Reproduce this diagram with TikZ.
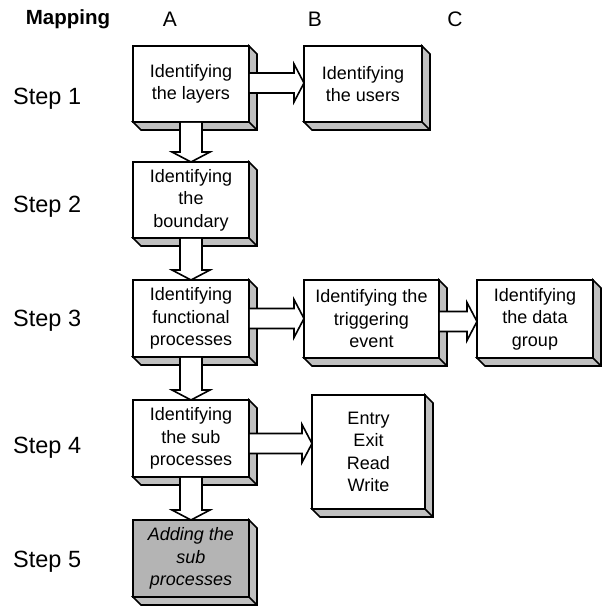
\documentclass[tikz,border=0pt]{standalone}
\usepackage{fontspec}
\setmainfont{Liberation Sans}
\usetikzlibrary{calc}
\definecolor{depthgray}{HTML}{C0C0C0}
\definecolor{facegray}{HTML}{B4B4B4}
\tikzset{
  lw/.style={line width=1.6pt},
  face/.style={draw, lw, fill=white, inner sep=0pt, outer sep=0pt, align=center,
    font=\fontsize{18}{22.5}\selectfont},
  steplabel/.style={anchor=base west, inner sep=0pt, font=\fontsize{23.5}{26}\selectfont},
  colhead/.style={inner sep=0pt, font=\fontsize{21}{24}\selectfont},
  side/.style={lw, fill=depthgray, line join=miter},
  arrowline/.style={lw, line join=miter},
}
\newcommand\boxdepth[1]{%
  \filldraw[side] (#1.north east) -- ++(8,8) -- ($(#1.south east)+(8,8)$)
    -- ($(#1.south west)+(8,8)$) -- (#1.south west) -- (#1.south east) -- cycle;
  \draw[lw] (#1.south east) -- ++(8,8);
}
% horizontal block arrow: from node, to node, y centre (px)
\newcommand\harrow[3]{%
  \path let \p1=(#1.east), \p2=(#2.west), \p3=(0,#3) in
    [fill=white] (\x1+0.8pt,\y3+10pt) -- (\x2-10pt,\y3+10pt) -- (\x2-10pt,\y3+19pt)
      -- (\x2,\y3) -- (\x2-10pt,\y3-19pt) -- (\x2-10pt,\y3-10pt) -- (\x1+0.8pt,\y3-10pt) -- cycle;
  \draw[arrowline] let \p1=(#1.east), \p2=(#2.west), \p3=(0,#3) in
    (\x1,\y3+10pt) -- (\x2-10pt,\y3+10pt) -- (\x2-10pt,\y3+19pt)
      -- (\x2,\y3) -- (\x2-10pt,\y3-19pt) -- (\x2-10pt,\y3-10pt) -- (\x1,\y3-10pt);
}
% vertical block arrow
\newcommand\varrow[2]{%
  \path let \p1=(#1.south), \p2=(#2.north) in
    [fill=white] (\x1-11pt,\y1-0.8pt) -- (\x1-11pt,\y2+10pt) -- (\x1-19pt,\y2+10pt)
      -- (\x1,\y2) -- (\x1+19pt,\y2+10pt) -- (\x1+11pt,\y2+10pt) -- (\x1+11pt,\y1-0.8pt) -- cycle;
  \draw[arrowline] let \p1=(#1.south), \p2=(#2.north) in
    (\x1-11pt,\y1) -- (\x1-11pt,\y2+10pt) -- (\x1-19pt,\y2+10pt)
      -- (\x1,\y2) -- (\x1+19pt,\y2+10pt) -- (\x1+11pt,\y2+10pt) -- (\x1+11pt,\y1);
}
\begin{document}
\begin{tikzpicture}[x=1pt,y=-1pt]
\useasboundingbox (0,0) rectangle (602,606);

% headers
\node[inner sep=0pt, font=\bfseries\fontsize{20.5}{24}\selectfont] (hmap) at (68,19) {Mapping};
\node[colhead] (ha) at (170,19.5) {A};
\node[colhead] (hb) at (315,19.5) {B};
\node[colhead] (hc) at (455,19.5) {C};

% step labels
\node[steplabel] (s1) at (13,104) {Step 1};
\node[steplabel] (s2) at (13,212) {Step 2};
\node[steplabel] (s3) at (13,326) {Step 3};
\node[steplabel] (s4) at (13,453) {Step 4};
\node[steplabel] (s5) at (13,567) {Step 5};

% boxes
\node[face, minimum width=116pt, minimum height=76pt] (a1) at (191,84) {Identifying\\the layers};
\node[face, minimum width=118pt, minimum height=76pt] (b1) at (363,84) {Identifying\\the users};
\node[face, minimum width=116pt, minimum height=76pt] (a2) at (191,200) {Identifying\\the\\boundary};
\node[face, minimum width=116pt, minimum height=77pt] (a3) at (191,318.5) {Identifying\\functional\\processes};
\node[face, minimum width=135pt, minimum height=78pt] (b3) at (371.5,319) {Identifying the\\triggering\\event};
\node[face, minimum width=116pt, minimum height=78pt] (c3) at (535,319) {Identifying\\the data\\group};
\node[face, minimum width=116pt, minimum height=77pt] (a4) at (191,438.5) {Identifying\\the sub\\processes};
\node[face, minimum width=113pt, minimum height=114pt] (b4) at (368.5,452) {Entry\\Exit\\Read\\Write};
\node[face, fill=facegray, minimum width=116pt, minimum height=77pt, font=\itshape\fontsize{18}{22.5}\selectfont] (a5) at (191,558.5) {Adding the\\sub\\processes};

\boxdepth{a1}\boxdepth{b1}\boxdepth{a2}\boxdepth{a3}\boxdepth{b3}
\boxdepth{c3}\boxdepth{a4}\boxdepth{b4}\boxdepth{a5}

% connectors
\harrow{a1}{b1}{83}
\harrow{a3}{b3}{318.5}
\harrow{b3}{c3}{321.5}
\harrow{a4}{b4}{443.5}
\varrow{a1}{a2}
\varrow{a2}{a3}
\varrow{a3}{a4}
\varrow{a4}{a5}
\end{tikzpicture}
\end{document}
